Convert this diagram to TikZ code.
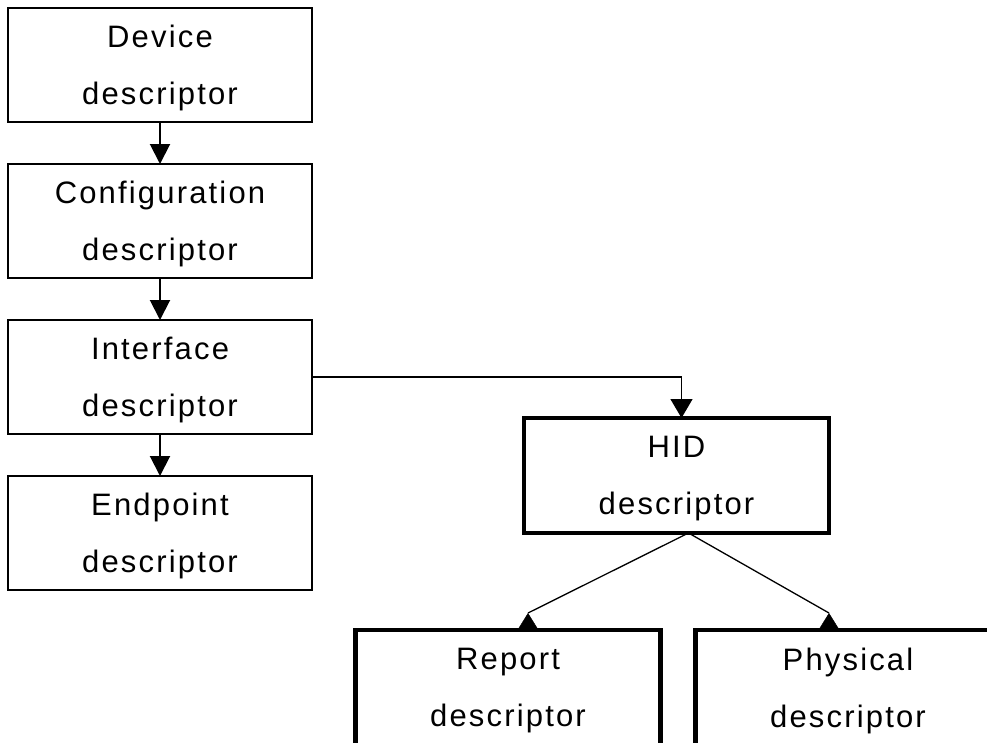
\documentclass[tikz,border=0pt]{standalone}
\usepackage{fontspec}
\newfontfamily\descfont{Liberation Sans}[LetterSpace=7.0]
\usetikzlibrary{positioning, arrows.meta}

\begin{document}
\begin{tikzpicture}[x=1pt, y=-1pt, node distance=42pt,
    desc/.style={draw, line width=2pt, outer sep=0pt, minimum width=304pt,
      minimum height=114pt, align=center, text depth=0pt,
      font=\descfont\fontsize{31pt}{57pt}\selectfont},
    hidbox/.style={desc, line width=4.5pt, minimum width=305pt, minimum height=115pt},
    down/.style={line width=2pt, -{Triangle[width=20pt,length=20pt]}},
    link/.style={line width=1.3pt}]
  \useasboundingbox (0,0) rectangle (987,742);
  \clip (0,0) rectangle (987,742);

  % standard descriptors
  \node[desc] (dev) at (160,65) {Device\\descriptor};
  \node[desc, below=of dev] (cfg) {Configuration\\descriptor};
  \node[desc, below=of cfg] (iface) {Interface\\descriptor};
  \node[desc, below=of iface] (ep) {Endpoint\\descriptor};

  % class descriptors
  \node[hidbox] (hid) at (676.5,475.5) {HID\\descriptor};
  \node[hidbox] (rep) at (508,687.5) {Report\\descriptor};
  \node[hidbox] (phys) at (848,687.5) {Physical\\descriptor};

  \draw[down] (dev) -- (cfg);
  \draw[down] (cfg) -- (iface);
  \draw[down] (iface) -- (ep);
  \draw[link, -{Triangle[width=22pt,length=19pt]}] (iface.east) -| ([xshift=5pt]hid.north);

  \coordinate (reptip) at ([xshift=20pt, yshift=17pt]rep.north);
  \coordinate (phystip) at ([xshift=-19pt, yshift=17pt]phys.north);
  \draw[link] ([xshift=12pt]hid.south) -- (reptip);
  \draw[link] ([xshift=12pt]hid.south) -- (phystip);
  \draw[{Triangle[width=21pt,length=17pt]}-] (reptip) -- (reptip |- rep.north);
  \draw[{Triangle[width=21pt,length=17pt]}-] (phystip) -- (phystip |- phys.north);
\end{tikzpicture}
\end{document}
